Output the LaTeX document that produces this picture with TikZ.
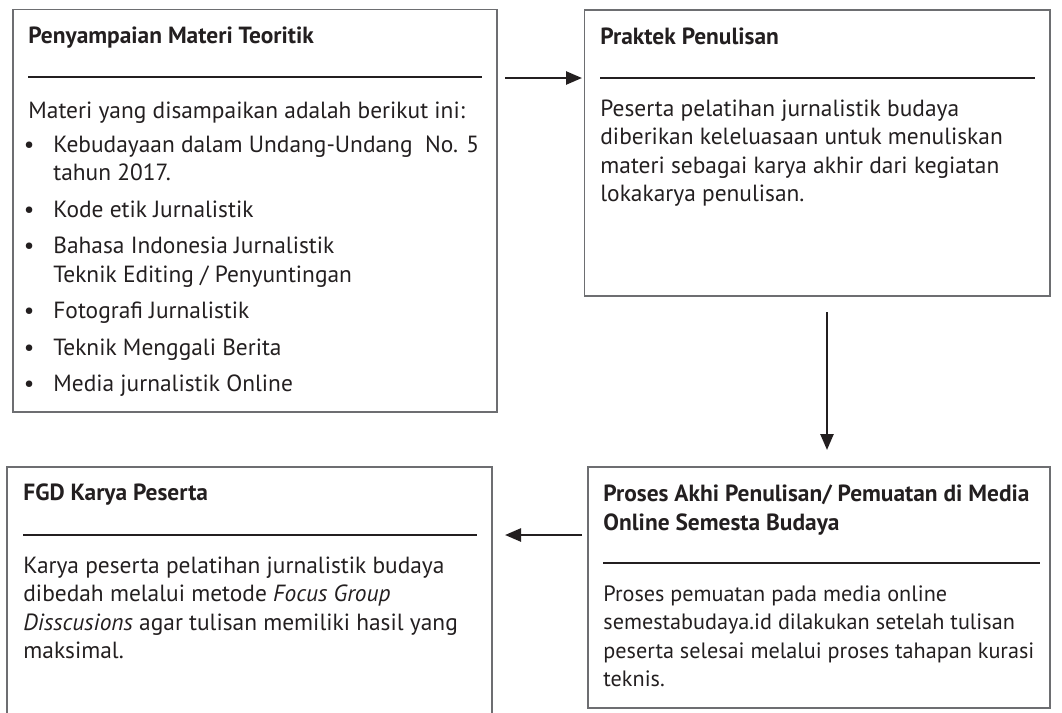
\documentclass[tikz,border=0pt]{standalone}
\usepackage{fontspec}
\setmainfont{PT Sans}
\usetikzlibrary{arrows.meta,fit,positioning}
\definecolor{ink}{HTML}{231F20}
\definecolor{frame}{HTML}{6D6E71}
\newcommand{\blt}{\makebox[0pt][r]{\textbullet\hspace{9.5pt}}}

\begin{document}
\begin{tikzpicture}[x=0.5pt,y=-0.5pt,
    box/.style={draw=frame,line width=0.75pt,inner sep=0pt},
    title/.style={anchor=base west,inner sep=0pt,text=ink,align=left,
      font=\fontsize{11.7}{14.25}\selectfont\bfseries},
    body/.style={anchor=base west,inner sep=0pt,text=ink,align=left,
      font=\fontsize{11.7}{14.25}\selectfont},
    rule/.style={ink,line width=1.25pt},
    flow/.style={ink,line width=1.25pt,-{Triangle[length=8pt,width=6.5pt]}}]
        \clip (0,0) rectangle (1062,713);
        % frames
        \node[box,fit={(13,9.5) (497,412)}] (teori) {};
        \node[box,fit={(584.5,10) (1050,296)}] (praktek) {};
        \node[box,fit={(7,467) (492,740)}] (fgd) {};
        \node[box,fit={(588,467) (1050,708)}] (muat) {};
        % Penyampaian Materi Teoritik (multi-line nodes sit on their last line)
        \node[title] (teoriT) at (28,43) {Penyampaian Materi Teoritik};
        \draw[rule] (28,77)--(482,77);
        \node[body] (teoriB) at (28,118) {Materi yang disampaikan adalah berikut ini:};
        \node[body] (teoriL) at (53,391.5) {\blt Kebudayaan dalam Undang-Undang\ \ No. 5\\
          tahun 2017.\\[4pt]
          \blt Kode etik Jurnalistik\\[4pt]
          \blt Bahasa Indonesia Jurnalistik\\
          Teknik Editing / Penyuntingan\\[4pt]
          \blt Fotografi Jurnalistik\\[4pt]
          \blt Teknik Menggali Berita\\[4pt]
          \blt Media jurnalistik Online};
        % Praktek Penulisan
        \node[title] (praktekT) at (600,44) {Praktek Penulisan};
        \draw[rule] (600,78)--(1035,78);
        \node[body] (praktekB) at (600,201.5) {Peserta pelatihan jurnalistik budaya\\
          diberikan keleluasaan untuk menuliskan\\
          materi sebagai karya akhir dari kegiatan\\
          lokakarya penulisan.};
        % FGD Karya Peserta
        \node[title] (fgdT) at (23,500) {FGD Karya Peserta};
        \draw[rule] (23,535)--(477,535);
        \node[body] (fgdB) at (23,658.5) {Karya peserta pelatihan jurnalistik budaya\\
          dibedah melalui metode \textit{Focus Group}\\
          \textit{Disscusions} agar tulisan memiliki hasil yang\\
          maksimal.};
        % Proses Akhir
        \node[title] (muatT) at (603,530) {Proses Akhi Penulisan/ Pemuatan di Media\\
          Online Semesta Budaya};
        \draw[rule] (603,563)--(1040,563);
        \node[body,font=\fontsize{11.1}{14.25}\selectfont] (muatB) at (603,686.5)
          {Proses pemuatan pada media online\\
          semestabudaya.id dilakukan setelah tulisan\\
          peserta selesai melalui proses tahapan kurasi\\
          teknis.};
        % arrows
        \coordinate (a1) at (505,78);
        \coordinate (a2) at (582,78);
        \coordinate (b1) at (827,312);
        \coordinate (b2) at (827,450);
        \coordinate (c1) at (582,535);
        \coordinate (c2) at (505,535);
        \draw[flow] (a1)--(a2);
        \draw[flow] (b1)--(b2);
        \draw[flow] (c1)--(c2);
    \end{tikzpicture}
\end{document}
